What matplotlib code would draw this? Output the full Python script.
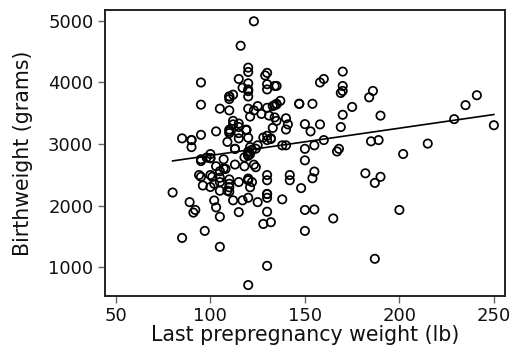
import numpy as np
import matplotlib
matplotlib.use("Agg")
import matplotlib.pyplot as plt

# Mother's last prepregnancy weight (lb) and birthweight (grams)
lwt = [182,155,105,108,107,124,118,103,123,113,95,150,95,107,100,100,98,118,120,120,
       121,100,202,120,120,167,122,150,168,113,113,90,121,155,125,140,138,124,215,109,
       185,189,130,160,90,90,132,132,115,85,120,128,130,95,115,110,110,153,103,119,
       119,119,110,140,133,169,115,250,141,158,112,150,115,112,135,229,140,134,121,190,
       131,170,110,127,123,120,105,130,175,125,133,134,235,95,135,135,154,147,147,137,
       110,184,110,110,120,241,112,169,120,170,186,120,130,117,170,134,135,130,120,95,
       158,160,115,129,130,120,170,120,116,123,
       120,130,187,105,85,150,97,128,132,165,105,91,115,130,92,150,200,155,103,125,
       89,102,112,117,138,130,120,130,130,80,110,105,109,148,110,121,100,96,102,110,
       187,122,105,115,120,142,130,120,110,120,154,105,190,101,95,100,94,142,130]
bwt = [2523,2551,2557,2594,2600,2622,2637,2637,2663,2665,2722,2733,2751,2750,2769,2769,2778,2782,2807,2821,
       2835,2835,2836,2863,2877,2877,2906,2920,2920,2920,2920,2948,2948,2977,2977,2977,2977,2922,3005,3033,
       3042,3062,3062,3062,3062,3062,3080,3090,3090,3090,3100,3104,3132,3147,3175,3175,3203,3203,3203,3225,
       3225,3232,3232,3234,3260,3274,3274,3303,3317,3317,3317,3321,3331,3374,3374,3402,3416,3430,3444,3459,
       3460,3473,3544,3487,3544,3572,3572,3586,3600,3614,3614,3629,3629,3637,3643,3651,3651,3651,3651,3699,
       3728,3756,3770,3770,3770,3790,3799,3827,3856,3860,3860,3884,3884,3912,3940,3941,3941,3969,3983,3997,
       3997,4054,4054,4111,4153,4167,4174,4238,4593,4990,
       709,1021,1135,1330,1474,1588,1588,1701,1729,1790,1818,1885,1893,1899,1928,1928,1928,1936,1970,2055,
       2055,2082,2084,2084,2100,2125,2126,2187,2187,2211,2225,2240,2240,2282,2296,2296,2301,2325,2353,2353,
       2367,2381,2381,2381,2410,2410,2410,2414,2424,2438,2442,2450,2466,2466,2466,2495,2495,2495,2495]

x_ticks = [50, 100, 150, 200, 250]
y_ticks = [1000, 2000, 3000, 4000, 5000]

x = np.array(lwt, dtype=float)
y = np.array(bwt, dtype=float)
n = min(len(x), len(y))
x, y = x[:n], y[:n]

fig = plt.figure(figsize=(5.12, 3.56), dpi=100)
ax = fig.add_axes([0.205, 0.169, 0.781, 0.803])

ax.scatter(x, y, s=36, facecolors="none", edgecolors="black", linewidths=1.25, zorder=3)

b, a = np.polyfit(x, y, 1)
xl = np.array([x.min(), x.max()])
ax.plot(xl, a + b * xl, color="black", lw=1.2, zorder=2)

ax.set_xlim(44.2, 255.8)
ax.set_ylim(534, 5174)
ax.set_xticks(x_ticks)
ax.set_yticks(y_ticks)
ax.tick_params(direction="out", length=4.8, width=1, color="#666666",
               labelsize=13, labelcolor="#111111", pad=3.5)
for s in ax.spines.values():
    s.set_color("#222222")
    s.set_linewidth(1.4)
ax.set_xlabel("Last prepregnancy weight (lb)", fontsize=14.8, color="#111111")
ax.set_ylabel("Birthweight (grams)", fontsize=14.8, color="#111111")
ax.xaxis.set_label_coords(0.5, -0.101)
ax.yaxis.set_label_coords(-0.18, 0.5)

fig.savefig("out.png", dpi=100)
